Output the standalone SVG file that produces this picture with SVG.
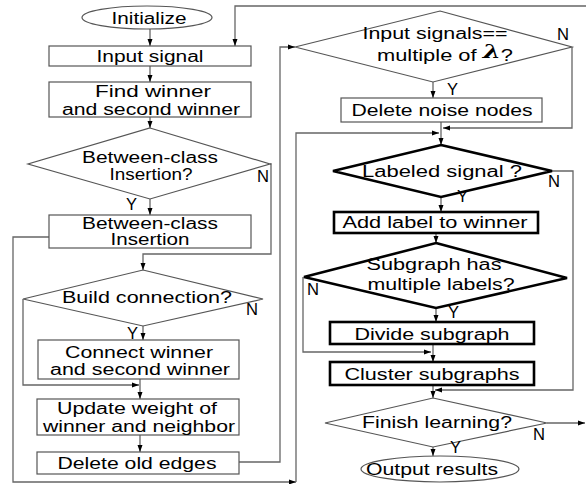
<svg xmlns="http://www.w3.org/2000/svg" width="586" height="484" viewBox="0 0 586 484">
  <defs>
    <marker id="arr" markerUnits="userSpaceOnUse" markerWidth="7" markerHeight="6" refX="7" refY="3" orient="auto">
      <path d="M0,0.5 L7,3 L0,5.5 z" fill="#000"/>
    </marker>
    <style>
      .box { fill: #fff; stroke: #555; stroke-width: 1.2; }
      .heavy { fill: #fff; stroke: #000; stroke-width: 2.6; }
      .t { font-family: "Liberation Sans", Arial, sans-serif; font-size: 16px; fill: #000; text-anchor: middle; }
      .yn { font-family: "Liberation Sans", Arial, sans-serif; font-size: 16px; fill: #000; }
      .c { fill: none; stroke: #666; stroke-width: 1.3; marker-end: url(#arr); }
    </style>
  </defs>
  <rect width="586" height="484" fill="#fff"/>

  <!-- connectors -->
  <g id="connectors">
    <path class="c" d="M150,29 V46"/>
    <path class="c" d="M150,66 V82"/>
    <path class="c" d="M150,117 V128"/>
    <path class="c" d="M150,199 V215"/>
    <path class="c" d="M270,164 H271 V254 H143 V270"/>
    <path class="c" d="M143,326 V340"/>
    <path class="c" d="M23,299 V385 H139"/>
    <path class="c" d="M140,379 V399"/>
    <path class="c" d="M140,435 V452"/>
    <path class="c" d="M239,462 H280 V47 H295"/>
    <path class="c" d="M586,6 H235 V46"/>
    <path class="c" d="M49,237 H13 V482 H296"/>
    <path class="c" d="M296,482 V133 H439"/>
    <path class="c" d="M433,82 V98"/>
    <path class="c" d="M572,47 V128 H443"/>
    <path class="c" d="M441,122 V145"/>
    <path class="c" d="M441,197 V212"/>
    <path class="c" d="M552,171 H573 V390 H435"/>
    <path class="c" d="M436,233 V243"/>
    <path class="c" d="M436,308 V322"/>
    <path class="c" d="M303,277 V352 H431"/>
    <path class="c" d="M433,344 V362"/>
    <path class="c" d="M433,385 V398"/>
    <path class="c" d="M433,447 V456"/>
    <path class="c" d="M547,423 H585"/>
  </g>

  <!-- left column -->
  <g id="initialize">
    <ellipse class="box" cx="147" cy="17.5" rx="65" ry="11.5"/>
    <text class="t" x="149" y="23.5" textLength="75" lengthAdjust="spacingAndGlyphs">Initialize</text>
  </g>
  <g id="input-signal">
    <rect class="box" x="49" y="46" width="202" height="20"/>
    <text class="t" x="150" y="62" textLength="107" lengthAdjust="spacingAndGlyphs">Input signal</text>
  </g>
  <g id="find-winner">
    <rect class="box" x="49" y="82" width="202" height="35"/>
    <text class="t" x="153" y="97" textLength="116" lengthAdjust="spacingAndGlyphs">Find winner</text>
    <text class="t" x="151" y="114.5" textLength="178" lengthAdjust="spacingAndGlyphs">and second winner</text>
  </g>
  <g id="between-class-test">
    <polygon class="box" points="150,128 270,164 150,199 28,164"/>
    <text class="t" x="150" y="163" textLength="136" lengthAdjust="spacingAndGlyphs">Between-class</text>
    <text class="t" x="151" y="180" textLength="83" lengthAdjust="spacingAndGlyphs">Insertion?</text>
    <text class="yn" x="257" y="182" textLength="12" lengthAdjust="spacingAndGlyphs">N</text>
    <text class="yn" x="126" y="210" textLength="11" lengthAdjust="spacingAndGlyphs">Y</text>
  </g>
  <g id="between-class-insertion">
    <rect class="box" x="49" y="215" width="202" height="33"/>
    <text class="t" x="150" y="229" textLength="136" lengthAdjust="spacingAndGlyphs">Between-class</text>
    <text class="t" x="150" y="245" textLength="79" lengthAdjust="spacingAndGlyphs">Insertion</text>
  </g>
  <g id="build-connection">
    <polygon class="box" points="143,270 263,299 143,326 23,299"/>
    <text class="t" x="147" y="303" textLength="170" lengthAdjust="spacingAndGlyphs">Build connection?</text>
    <text class="yn" x="246" y="315" textLength="12" lengthAdjust="spacingAndGlyphs">N</text>
    <text class="yn" x="127" y="339" textLength="11" lengthAdjust="spacingAndGlyphs">Y</text>
  </g>
  <g id="connect-winner">
    <rect class="box" x="38" y="340" width="201" height="39"/>
    <text class="t" x="139" y="357.5" textLength="148" lengthAdjust="spacingAndGlyphs">Connect winner</text>
    <text class="t" x="140" y="375" textLength="180" lengthAdjust="spacingAndGlyphs">and second winner</text>
  </g>
  <g id="update-weight">
    <rect class="box" x="37" y="399" width="202" height="36"/>
    <text class="t" x="137" y="414" textLength="160" lengthAdjust="spacingAndGlyphs">Update weight of</text>
    <text class="t" x="139" y="432" textLength="192" lengthAdjust="spacingAndGlyphs">winner and neighbor</text>
  </g>
  <g id="delete-old-edges">
    <rect class="box" x="37" y="452" width="202" height="22"/>
    <text class="t" x="137" y="469" textLength="159" lengthAdjust="spacingAndGlyphs">Delete old edges</text>
  </g>

  <!-- right column -->
  <g id="lambda-test">
    <polygon class="box" points="440,11 572,47 433,82 295,47"/>
    <text class="t" x="435" y="39" textLength="145" lengthAdjust="spacingAndGlyphs">Input signals==</text>
    <text class="t" x="445" y="61" textLength="136" lengthAdjust="spacingAndGlyphs">multiple of <tspan font-family="DejaVu Serif, serif" font-style="italic" font-weight="bold" font-size="19" dy="-3">λ</tspan><tspan dy="3">?</tspan></text>
    <text class="yn" x="557" y="40" textLength="12" lengthAdjust="spacingAndGlyphs">N</text>
    <text class="yn" x="447" y="95" textLength="11" lengthAdjust="spacingAndGlyphs">Y</text>
  </g>
  <g id="delete-noise-nodes">
    <rect class="box" x="341" y="98" width="201" height="24"/>
    <text class="t" x="442" y="115.5" textLength="181" lengthAdjust="spacingAndGlyphs">Delete noise nodes</text>
  </g>
  <g id="labeled-signal">
    <polygon class="heavy" points="441,145 552,171 441,197 333,171"/>
    <text class="t" x="442" y="177" textLength="160" lengthAdjust="spacingAndGlyphs">Labeled signal ?</text>
    <text class="yn" x="548" y="187" textLength="12" lengthAdjust="spacingAndGlyphs">N</text>
    <text class="yn" x="457" y="202" textLength="11" lengthAdjust="spacingAndGlyphs">Y</text>
  </g>
  <g id="add-label">
    <rect class="heavy" x="334" y="212" width="204" height="21"/>
    <text class="t" x="435" y="228" textLength="185" lengthAdjust="spacingAndGlyphs">Add label to winner</text>
  </g>
  <g id="multiple-labels">
    <polygon class="heavy" points="436,243 567,278 436,308 304,277"/>
    <text class="t" x="434" y="270" textLength="135" lengthAdjust="spacingAndGlyphs">Subgraph has</text>
    <text class="t" x="441" y="290" textLength="147" lengthAdjust="spacingAndGlyphs">multiple labels?</text>
    <text class="yn" x="307" y="295" textLength="12" lengthAdjust="spacingAndGlyphs">N</text>
    <text class="yn" x="448" y="318" textLength="11" lengthAdjust="spacingAndGlyphs">Y</text>
  </g>
  <g id="divide-subgraph">
    <rect class="heavy" x="330" y="322" width="204" height="22"/>
    <text class="t" x="432" y="340" textLength="155" lengthAdjust="spacingAndGlyphs">Divide subgraph</text>
  </g>
  <g id="cluster-subgraphs">
    <rect class="heavy" x="330" y="362" width="204" height="23"/>
    <text class="t" x="432" y="380" textLength="175" lengthAdjust="spacingAndGlyphs">Cluster subgraphs</text>
  </g>
  <g id="finish-learning">
    <polygon class="box" points="433,398 547,423 433,447 325,423"/>
    <text class="t" x="437" y="427.5" textLength="150" lengthAdjust="spacingAndGlyphs">Finish learning?</text>
    <text class="yn" x="533" y="440" textLength="12" lengthAdjust="spacingAndGlyphs">N</text>
    <text class="yn" x="450" y="453" textLength="11" lengthAdjust="spacingAndGlyphs">Y</text>
  </g>
  <g id="output-results">
    <ellipse class="box" cx="440" cy="469" rx="79" ry="13"/>
    <text class="t" x="432" y="475" textLength="132" lengthAdjust="spacingAndGlyphs">Output results</text>
  </g>
</svg>
